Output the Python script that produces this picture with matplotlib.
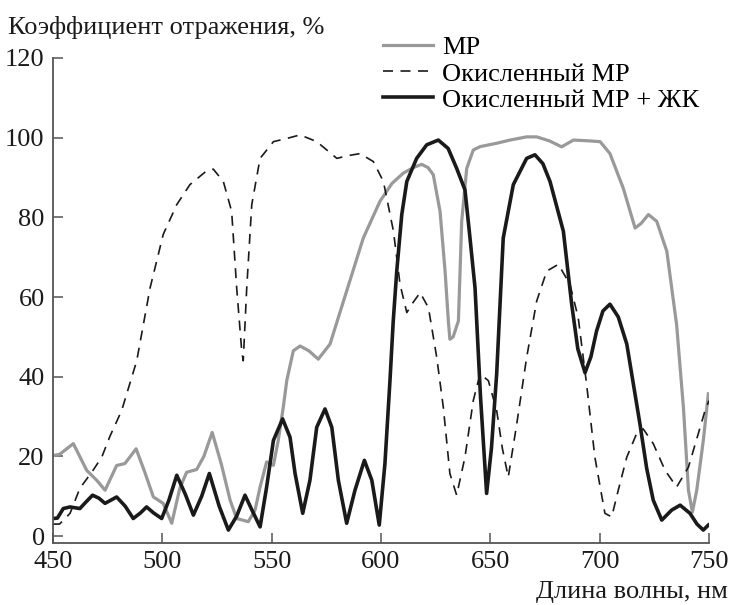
"""
reflectance spectra: MP, oxidized MP, oxidized MP + LC
"""
import matplotlib
matplotlib.use("Agg")
from matplotlib import pyplot as plt
from matplotlib import font_manager
from matplotlib.font_manager import FontProperties

# МР (grey)
mp_x = [450, 453, 459.3, 465.4, 470, 473.8, 479.1, 482.9, 488, 492, 495.9, 500.4, 504.3,
        508, 511.1, 515.7, 519, 522.8, 527, 531, 534, 539.3, 542.4, 544.7, 547.7, 550.8,
        553, 555.3, 556.9, 559.9, 563, 567, 571.3, 576.7, 580, 584.3, 591.9, 599.5, 605,
        610.2, 614.8, 618.6, 621.5, 623.9, 627, 629.3, 630.8, 631.5, 633, 635.4, 636.9,
        639.2, 642.2, 645.3, 652.9, 659, 666.6, 671.2, 677, 682.6, 688, 695, 700.2, 704.7,
        710.8, 716.2, 719, 722.3, 726.1, 730.7, 735.2, 738.3, 740.6, 742.4, 744.4, 747.4,
        749.7]
mp_y = [20.2, 20.5, 23.2, 16.5, 14, 11.5, 17.7, 18.2, 21.9, 16, 9.8, 8.2, 3.2,
        12, 16, 16.7, 20, 26, 18, 9, 4.4, 3.6, 6.5, 12.3, 18.6, 17.75,
        24, 32.3, 39, 46.5, 47.7, 46.5, 44.4, 48.2, 54, 61.5, 74.8, 84, 88.5,
        91.1, 92.5, 93.3, 92.5, 90.7, 81.5, 66.5, 54, 49.4, 50, 54, 79,
        92.3, 96.9, 97.75, 98.6, 99.4, 100.2, 100.2, 99.2, 97.7, 99.4, 99.2, 99, 96,
        87.3, 77.3, 78.5, 80.7, 79, 71.5, 53, 32.3, 11.5, 6, 11.5, 24,
        35.7]

# Окисленный МР (dashed)
ox_x = [450, 453, 457.8, 462.3, 467.7, 472.3, 476, 481.4, 488.3, 494.4, 500.4, 506.6,
        512.6, 520.3, 523.3, 527.9, 531.7, 534, 536.3, 537, 538.6, 540.9, 544.7, 550.8,
        556.9, 563, 570.6, 575, 579.8, 585, 590.4, 596.5, 601.1, 605.7, 608.7, 611.8,
        614.5, 617.9, 621.7, 625.5, 628.5, 631.5, 634.6, 638.4, 642.2, 645.3, 649.1,
        652.9, 655.5, 658.2, 662.1, 666.6, 671.2, 675.8, 681.1, 686.4, 690.2, 694, 697.8,
        702.4, 705.5, 708.5, 712.4, 716.9, 719.9, 724.5, 729.9, 735.2, 740.6, 745.1, 748.2,
        750]
ox_y = [3, 3, 5.7, 12, 16, 19.8, 25, 31.5, 44, 62.3, 75.7, 83.2,
        88.2, 91.7, 92.1, 89, 81.5, 62.3, 46.5, 44, 62.3, 83.2, 94.8, 99,
        99.8, 100.7, 99, 97, 94.8, 95.5, 96, 94, 89, 76.5, 63.2, 56.1,
        58.5, 61.1, 57.3, 44.8, 32.3, 15.7, 10.25, 19.8, 34, 40.7, 39,
        31.5, 22, 14.8, 28.2, 44.8, 59, 66.5, 68.2, 63.2, 54.8, 38.2, 19.8,
        5.7, 4.8, 11.5, 19.8, 25.7, 26.9, 23.2, 16.5, 12.3, 17.3, 25.7, 31.5,
        34]

# Окисленный МР + ЖК (thick black)
lc_x = [450, 452, 454.7, 457.8, 462.3, 465, 468.1, 471, 473.8, 479.1, 483, 486.7, 490,
        492.8, 496, 499.7, 503, 506.6, 510.5, 514.2, 518, 521.5, 526, 530.2, 534, 537.8,
        541, 544.7, 547.7, 550.8, 555, 558.4, 560.7, 564.2, 567.5, 570.6, 574.4, 577.5,
        580.5, 584.3, 588.1, 592.4, 595.8, 599.2, 601.8, 604.1, 605.6, 607.2, 609.5, 611.8,
        616.3, 620.9, 626.2, 630.7, 634.6, 638.4, 640.7, 643, 645.5, 648.3, 650.5, 652.9,
        655.9, 660.5, 666.6, 670.4, 674, 677.3, 683.4, 687.2, 690, 693.3, 696, 698.6,
        701.5, 704.7, 708.5, 712.4, 718.4, 721.5, 724.5, 728.4, 732.9, 736.8, 741.3, 744.5,
        747.4, 749.7]
lc_y = [4.4, 4.5, 6.9, 7.3, 6.9, 8.5, 10.25, 9.5, 8.2, 9.8, 7.5, 4.4, 5.8,
        7.3, 5.8, 4.4, 9, 15.25, 10.5, 5.25, 10, 15.7, 7.5, 1.5, 5, 10.25,
        6.5, 2.3, 12.3, 24, 29.4, 24.8, 15.7, 5.7, 14, 27.3, 31.9, 27.3,
        14, 3.2, 11.5, 19, 14, 2.75, 18.2, 39, 54, 66.5, 80.7, 89,
        94.8, 98.2, 99.4, 97.3, 92.3, 86.9, 74.8, 62.3, 35, 10.7, 22, 40.7,
        74.8, 88.2, 94.8, 95.7, 93.5, 89, 76.5, 58.2, 47, 41, 45, 51.5,
        56.5, 58.2, 55, 48.2, 28.2, 17, 9, 4, 6.5, 7.75, 5.7, 3,
        1.5, 2.75]

x_ticks = [450, 500, 550, 600, 650, 700, 750]
y_ticks = [0, 20, 40, 60, 80, 100, 120]

# point straight at the font file, so no family lookup is involved
serif_path = font_manager.findfont(FontProperties(family="Liberation Serif"))
font = FontProperties(fname=serif_path, size=19)

fig = plt.figure(figsize=(7.29, 6.05), dpi=100)
ax = fig.add_axes([53 / 729, 62 / 605, 656 / 729, 485 / 605])

ax.plot(mp_x, mp_y, color="#999999", lw=2.3, label="МР")
ax.plot(ox_x, ox_y, color="#1a1a1a", lw=1.2, ls=(0, (6, 4.5)), label="Окисленный МР")
ax.plot(lc_x, lc_y, color="#1a1a1a", lw=2.6, label="Окисленный МР + ЖК")

ax.set_xlim(450, 750)
ax.set_ylim(-1.75, 120)
ax.set_xticks(x_ticks)
ax.set_yticks(y_ticks)
ax.set_xticklabels([str(t) for t in x_ticks], fontproperties=font)
ax.set_yticklabels([str(t) for t in y_ticks], fontproperties=font)
ax.spines["top"].set_visible(False)
ax.spines["right"].set_visible(False)
for s in ("left", "bottom"):
    ax.spines[s].set_linewidth(1.3)
    ax.spines[s].set_color("#555555")
ax.tick_params(direction="in", length=7, width=1.1, color="#555555", pad=6,
               labelcolor="#1a1a1a")

fig.text(8 / 729, 1 - 34 / 605, "Коэффициент отражения, %", fontproperties=font,
         va="baseline", ha="left", color="#1a1a1a")
fig.text(728 / 729, 1 - 598 / 605, "Длина волны, нм", fontproperties=font,
         va="baseline", ha="right", color="#1a1a1a")

ax.legend(loc="upper left", bbox_to_anchor=(383 / 729, 1 - 36 / 605),
          bbox_transform=fig.transFigure, frameon=False, borderpad=0,
          borderaxespad=0, handlelength=1.9, handletextpad=0.35,
          labelspacing=0.1, prop=font)

fig.savefig("out.png", dpi=100)
